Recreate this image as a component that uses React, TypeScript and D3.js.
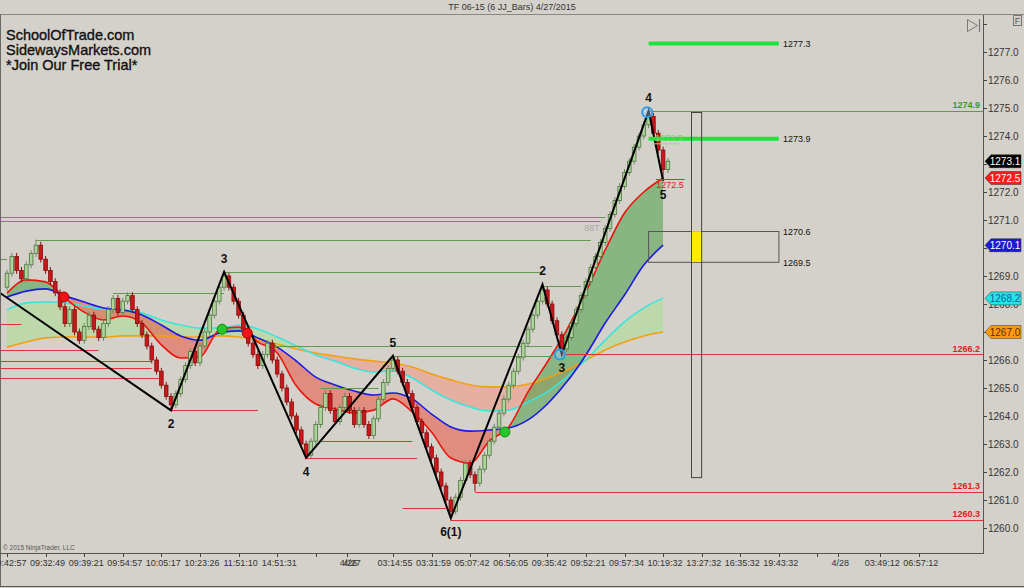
import React from 'react';
import * as d3 from 'd3';

const W = 1024;
const H = 588;

// ---- data ----
const firstOpen = 1268.6;
const closes = [
  1269.1, 1269.7, 1269.2, 1268.9, 1269.4, 1269.8, 1270.1, 1269.6, 1269.2, 1268.8,
  1268.4, 1267.9, 1267.3, 1267.8, 1267.0, 1266.7, 1267.2, 1267.6, 1267.1, 1266.8,
  1267.3, 1267.8, 1268.2, 1267.7, 1268.1, 1268.3, 1267.8, 1267.3, 1266.9, 1266.5,
  1266.0, 1265.6, 1265.1, 1264.7, 1264.4, 1264.8, 1265.3, 1265.8, 1266.3, 1265.9,
  1266.5, 1267.0, 1267.6, 1268.1, 1268.6, 1269.0, 1268.6, 1268.1, 1267.6, 1267.1,
  1266.6, 1266.2, 1265.8, 1266.2, 1266.6, 1266.0, 1265.5, 1265.0, 1264.5, 1264.0,
  1263.5, 1263.0, 1262.6, 1263.1, 1263.7, 1264.3, 1264.8, 1264.2, 1263.8, 1264.3,
  1264.7, 1264.2, 1263.7, 1264.2, 1263.7, 1263.3, 1263.9, 1264.6, 1265.2, 1265.7,
  1266.0, 1265.6, 1265.2, 1264.8, 1264.3, 1263.8, 1263.4, 1262.9, 1262.5, 1262.0,
  1261.5, 1261.0, 1260.6, 1261.1, 1261.7, 1262.3, 1261.9, 1261.6, 1262.1, 1262.6,
  1263.1, 1263.6, 1264.1, 1264.6, 1265.1, 1265.6, 1266.1, 1266.6, 1267.1, 1267.6,
  1268.1, 1268.5, 1268.0, 1267.4, 1266.9, 1266.4, 1266.8, 1267.3, 1267.8, 1268.3,
  1268.8, 1269.3, 1269.7, 1270.2, 1270.7, 1271.2, 1271.7, 1272.2, 1272.7, 1273.1,
  1273.6, 1274.0, 1274.4, 1274.7, 1274.1, 1273.5, 1272.8, 1273.1,
];
const wickHigh: [number, number][] = [[6, 1270.3], [45, 1269.15], [80, 1266.15], [111, 1268.7], [133, 1274.9]];
const wickLow: [number, number][] = [[34, 1264.2], [62, 1262.5], [92, 1260.35], [97, 1261.3], [115, 1266.2], [136, 1272.4]];

const maIdx = [0, 4, 8, 12, 16, 20, 24, 28, 32, 36, 40, 44, 48, 52, 56, 60, 64, 68, 72, 76, 80, 84, 88, 92, 96, 100, 104, 108, 112, 116, 120, 124, 128, 132, 136];
const maRed = [1268.39, 1268.86, 1268.79, 1268.21, 1267.71, 1267.43, 1267.57, 1267.32, 1266.54, 1266.07, 1266.11, 1267.07, 1267.18, 1266.64, 1266.25, 1265.07, 1264.43, 1264.25, 1264.11, 1264.21, 1264.61, 1264.14, 1263.43, 1262.5, 1262.32, 1263.11, 1263.61, 1264.86, 1265.93, 1267.07, 1268.43, 1269.93, 1271.25, 1272.0, 1272.5];
const maBlue = [1268.25, 1268.46, 1268.54, 1268.29, 1268.07, 1267.86, 1267.79, 1267.61, 1267.25, 1266.86, 1266.71, 1266.96, 1267.04, 1266.79, 1266.46, 1265.96, 1265.39, 1265.11, 1264.89, 1264.75, 1264.82, 1264.61, 1264.07, 1263.61, 1263.46, 1263.5, 1263.57, 1263.86, 1264.43, 1265.21, 1266.18, 1267.32, 1268.32, 1269.39, 1270.1];
const maCyan = [1267.79, 1268.04, 1268.07, 1268.04, 1267.93, 1267.82, 1267.79, 1267.68, 1267.43, 1267.25, 1267.14, 1267.14, 1267.25, 1267.11, 1266.82, 1266.5, 1266.18, 1265.96, 1265.71, 1265.57, 1265.61, 1265.36, 1264.93, 1264.57, 1264.32, 1264.18, 1264.21, 1264.5, 1264.86, 1265.39, 1266.0, 1266.71, 1267.36, 1267.86, 1268.21];
const maOrange = [1266.46, 1266.64, 1266.79, 1266.82, 1266.82, 1266.82, 1266.86, 1266.86, 1266.86, 1266.82, 1266.82, 1266.86, 1266.82, 1266.71, 1266.57, 1266.39, 1266.25, 1266.14, 1266.04, 1265.96, 1265.89, 1265.75, 1265.5, 1265.29, 1265.11, 1265.04, 1265.04, 1265.14, 1265.36, 1265.64, 1266.0, 1266.36, 1266.64, 1266.86, 1267.0];

const zigzag: [number, number][] = [[-1.5, 1268.4], [34, 1264.2], [45, 1269.15], [62, 1262.5], [80, 1266.15], [92, 1260.35], [111, 1268.7], [115, 1266.2], [133, 1274.9], [136, 1272.4]];
const waveLabels: [number, number, string, number][] = [
  [34, 1264.2, '2', 1], [45, 1269.15, '3', -1], [62, 1262.5, '4', 1], [80, 1266.15, '5', -1],
  [92, 1260.35, '6(1)', 1], [111, 1268.7, '2', -1], [115, 1266.2, '3', 1], [133, 1274.9, '4', -1], [136, 1272.4, '5', 1],
];
const dots: [number, number, string][] = [[11.8, 1268.25, 'red'], [44.6, 1267.1, 'green'], [49.8, 1266.96, 'red'], [103.2, 1263.43, 'green']];
const rings: [number, number][] = [[114.6, 1266.2], [132.7, 1274.85]];

const END = 9999;
const greenLines: [number, number, number][] = [
  [-2, 124, 1271.1], [-2, 123, 1270.95], [6, 121, 1270.3], [-2, 0, 1269.6], [22, 45, 1268.4],
  [45, 111, 1269.15], [111, 119, 1268.65], [54, 113, 1266.5], [80, 113, 1266.15], [65, 77, 1265.0], [133, END, 1274.9],
];
const redLines: [number, number, number][] = [
  [-2, 3, 1267.3], [-2, 19, 1266.35], [-2, 30, 1265.95], [-2, 30, 1265.7], [-2, 32, 1265.35],
  [34, 52, 1264.2], [62, 85, 1262.5], [65, 84, 1263.1], [82, 91, 1260.7], [97, END, 1261.3], [92, END, 1260.3], [115, END, 1266.2],
];
const axisLineLabels: [number, string, string][] = [[1274.9, '1274.9', '#3a9a2a'], [1266.2, '1266.2', '#e02020'], [1261.3, '1261.3', '#e02020'], [1260.3, '1260.3', '#e02020']];
const targetLines: [number, number, number][] = [[133, 160, 1277.3], [133, 160, 1273.9]];
const boxZone = { from: 133, to: 160, top: 1270.6, bottom: 1269.5 };
const tallBar = { from: 141.8, to: 143.9, top: 1274.86, bottom: 1261.82 };

const priceTicks = d3.range(1260, 1279, 1);
const markers: [number, string, string][] = [[1273.1, '#000000', '#ffffff'], [1272.5, '#ff1a1a', '#ffffff'], [1270.1, '#1a1ad8', '#ffffff'], [1268.2, '#22e6e6', '#1060a0'], [1267.0, '#ff9a10', '#5a2a00']];

const timeTicks: [number, string][] = [
  [0, '09:42:57'], [8, '09:32:49'], [16, '09:39:21'], [24, '09:54:57'], [32, '10:05:17'], [40, '10:23:26'],
  [48, '11:51:10'], [56, '14:51:31'], [64, ''], [70.4, '4/26'], [71.1, '4/27'], [80, '03:14:55'], [88, '03:31:59'],
  [96, '05:07:42'], [104, '06:56:05'], [112, '09:35:42'], [120, '09:52:21'], [128, '09:57:34'], [136, '10:19:32'],
  [144, '13:27:32'], [152, '16:35:32'], [160, '19:43:32'], [168, ''], [172.3, '4/28'], [181, '03:49:12'], [189, '06:57:12'],
];

// ---- layout ----
const plotL = 1, plotR = 983, plotT = 15, plotB = 553;
const x = d3.scaleLinear().domain([0, 136]).range([7, 663.1]);
const y = d3.scaleLinear().domain([1260, 1277]).range([528, 52]);
const FONT = 'Liberation Sans, Arial, sans-serif';
const BG = '#d4d1cb';

export default function App() {
  const bars = closes.map((c, i) => {
    const o = i === 0 ? firstOpen : closes[i - 1];
    let hi = Math.max(o, c) + 0.12;
    let lo = Math.min(o, c) - 0.12;
    wickHigh.forEach(([k, v]) => { if (k === i) hi = v; });
    wickLow.forEach(([k, v]) => { if (k === i) lo = v; });
    return { i, o, c, hi, lo, up: c >= o };
  });

  const pts = (arr: number[]) => maIdx.map((k, j) => [k, arr[j]] as [number, number]);
  const line = d3.line<[number, number]>().x(d => x(d[0])).y(d => y(d[1])).curve(d3.curveMonotoneX);
  const between = (a: number[], b: number[]) =>
    d3.area<number>().x(j => x(maIdx[j])).y0(j => y(a[j])).y1(j => y(b[j])).curve(d3.curveMonotoneX)(maIdx.map((_, j) => j)) || '';
  const above = (b: number[]) =>
    d3.area<number>().x(j => x(maIdx[j])).y0(() => 0).y1(j => y(b[j])).curve(d3.curveMonotoneX)(maIdx.map((_, j) => j)) || '';
  const below = (b: number[]) =>
    d3.area<number>().x(j => x(maIdx[j])).y0(j => y(b[j])).y1(() => H).curve(d3.curveMonotoneX)(maIdx.map((_, j) => j)) || '';

  const lx = (k: number) => (k === END ? plotR : Math.max(plotL, x(k)));
  const bw = 3.6;

  return (
    <svg width={W} height={H} style={{ position: 'absolute', left: 0, top: 0, background: BG }} fontFamily={FONT}>
      <defs>
        <clipPath id="plot"><rect x={plotL} y={plotT} width={plotR - plotL} height={plotB - plotT} /></clipPath>
        <clipPath id="aboveBlue"><path d={above(maBlue)} /></clipPath>
        <clipPath id="belowBlue"><path d={below(maBlue)} /></clipPath>
        <clipPath id="aboveOrange"><path d={above(maOrange)} /></clipPath>
        <clipPath id="belowOrange"><path d={below(maOrange)} /></clipPath>
      </defs>
      <rect x={0} y={0} width={W} height={H} fill={BG} />
      <text x={512} y={10} fontSize={9} textAnchor="middle" fill="#333">TF 06-15 (6 JJ_Bars)  4/27/2015</text>

      <g clipPath="url(#plot)">
        <path d={between(maCyan, maOrange)} fill="#a6e08c" opacity={0.5} clipPath="url(#aboveOrange)" />
        <path d={between(maCyan, maOrange)} fill="#f09a86" opacity={0.6} clipPath="url(#belowOrange)" />
        <path d={between(maRed, maBlue)} fill="#3c9a38" opacity={0.5} clipPath="url(#aboveBlue)" />
        <path d={between(maRed, maBlue)} fill="#ea5446" opacity={0.55} clipPath="url(#belowBlue)" />

        <path d={line(pts(maOrange)) || ''} fill="none" stroke="#f2a012" strokeWidth={1.6} />
        <path d={line(pts(maCyan)) || ''} fill="none" stroke="#3ce4dc" strokeWidth={1.6} />
        <path d={line(pts(maBlue)) || ''} fill="none" stroke="#1c1ce0" strokeWidth={1.6} />
        <path d={line(pts(maRed)) || ''} fill="none" stroke="#e8160e" strokeWidth={1.6} />

        {greenLines.map(([a, b, p], k) => (
          <line key={'g' + k} x1={lx(a)} x2={lx(b)} y1={Math.round(y(p)) + 0.5} y2={Math.round(y(p)) + 0.5} stroke="#5e9c4c" strokeWidth={1} />
        ))}
        {redLines.map(([a, b, p], k) => (
          <line key={'r' + k} x1={lx(a)} x2={lx(b)} y1={Math.round(y(p)) + 0.5} y2={Math.round(y(p)) + 0.5} stroke="#e03434" strokeWidth={1} />
        ))}

        {bars.map(b => (
          <g key={b.i}>
            <line x1={x(b.i)} x2={x(b.i)} y1={y(b.hi)} y2={y(b.lo)} stroke={b.up ? '#6d8a62' : '#8a1010'} strokeWidth={1} />
            <rect x={x(b.i) - bw / 2} y={y(Math.max(b.o, b.c))} width={bw} height={Math.max(1, Math.abs(y(b.o) - y(b.c)))}
              fill={b.up ? '#acd398' : '#c8181c'} stroke={b.up ? '#4d7440' : '#850c0c'} strokeWidth={0.8} />
          </g>
        ))}

        <path d={d3.line<[number, number]>().x(d => x(d[0])).y(d => y(d[1]))(zigzag) || ''} fill="none" stroke="#000" strokeWidth={2} />

        {dots.map(([i, p, c], k) => (
          <circle key={'d' + k} cx={x(i)} cy={y(p)} r={5} fill={c === 'red' ? '#f01414' : '#26c826'} stroke={c === 'red' ? '#b00000' : '#128a12'} strokeWidth={1} />
        ))}
        {rings.map(([i, p], k) => (
          <circle key={'ring' + k} cx={x(i)} cy={y(p)} r={5} fill="#9fd4f5" fillOpacity={0.4} stroke="#2e9be8" strokeWidth={2} />
        ))}

        {waveLabels.map(([i, p, t, dir], k) => (
          <text key={'w' + k} x={x(i)} y={y(p) + (dir > 0 ? 18 : -9)} fontSize={12} fontWeight="bold" textAnchor="middle" fill="#111">{t}</text>
        ))}

        <text x={592} y={231} fontSize={9} fill="#a8a8a8" textAnchor="middle">88T</text>

        {targetLines.map(([a, b, p], k) => (
          <g key={'t' + k}>
            <line x1={x(a)} x2={x(b)} y1={y(p)} y2={y(p)} stroke="#1fe33c" strokeWidth={4} />
            <text x={x(b) + 4} y={y(p) + 3.5} fontSize={9} fill="#111">{p.toFixed(1)}</text>
          </g>
        ))}
        <line x1={x(133.6)} x2={x(139.5)} y1={y(1273.72)} y2={y(1273.72)} stroke="#8ee07a" strokeWidth={1} />
        <text x={x(134.3)} y={y(1273.72) - 3} fontSize={9} fill="#7fd86a">1273.7</text>
        <line x1={x(134.5)} x2={x(140.5)} y1={Math.round(y(1272.45)) + 0.5} y2={Math.round(y(1272.45)) + 0.5} stroke="#e03434" strokeWidth={1} />
        <text x={x(134.6)} y={y(1272.45) + 9} fontSize={9} fill="#e02020">1272.5</text>

        <rect x={x(boxZone.from)} y={Math.round(y(boxZone.top)) + 0.5} width={x(boxZone.to) - x(boxZone.from)} height={y(boxZone.bottom) - y(boxZone.top)} fill="none" stroke="#555" strokeWidth={1} />
        <text x={x(boxZone.to) + 4} y={y(boxZone.top) + 3.5} fontSize={9} fill="#111">{boxZone.top.toFixed(1)}</text>
        <text x={x(boxZone.to) + 4} y={y(boxZone.bottom) + 3.5} fontSize={9} fill="#111">{boxZone.bottom.toFixed(1)}</text>
        <rect x={x(tallBar.from)} y={y(boxZone.top)} width={x(tallBar.to) - x(tallBar.from)} height={y(boxZone.bottom) - y(boxZone.top)} fill="#ffec00" />
        <rect x={Math.round(x(tallBar.from)) + 0.5} y={Math.round(y(tallBar.top)) + 0.5} width={x(tallBar.to) - x(tallBar.from)} height={y(tallBar.bottom) - y(tallBar.top)} fill="none" stroke="#444" strokeWidth={1} />

        {axisLineLabels.map(([p, t, c], k) => (
          <text key={'al' + k} x={980} y={y(p) - 2.5} fontSize={9} fontWeight="bold" textAnchor="end" fill={c}>{t}</text>
        ))}

        <text x={6} y={40} fontSize={14.5} fill="#111" stroke="#111" strokeWidth={0.35}>SchoolOfTrade.com</text>
        <text x={6} y={55} fontSize={14.5} fill="#111" stroke="#111" strokeWidth={0.35}>SidewaysMarkets.com</text>
        <text x={6} y={70} fontSize={14.5} fill="#111" stroke="#111" strokeWidth={0.35}>*Join Our Free Trial*</text>
        <text x={3} y={550} fontSize={6.5} fill="#555">© 2015 NinjaTrader, LLC</text>

        <path d="M967.5,19.5 L977.5,25.5 L967.5,31.5 Z" fill="none" stroke="#777" strokeWidth={1} />
        <line x1={979.5} x2={979.5} y1={19} y2={32} stroke="#777" strokeWidth={1.2} />
      </g>

      {/* frame */}
      <line x1={0} x2={W} y1={14.5} y2={14.5} stroke="#8a8884" strokeWidth={1} />
      <line x1={0.5} x2={0.5} y1={14} y2={587} stroke="#6a6864" strokeWidth={1} />
      <line x1={0} x2={plotR} y1={plotB + 0.5} y2={plotB + 0.5} stroke="#555" strokeWidth={1} />
      <line x1={plotR + 0.5} x2={plotR + 0.5} y1={plotT} y2={plotB + 1} stroke="#555" strokeWidth={1} />
      <line x1={0} x2={W} y1={586.5} y2={586.5} stroke="#555" strokeWidth={1} />
      <rect x={1013.5} y={15.5} width={8} height={10} fill="none" stroke="#777" strokeWidth={1} />
      <text x={1017.5} y={24} fontSize={9} textAnchor="middle" fill="#555">F</text>

      {/* price axis */}
      {priceTicks.map(p => (
        <g key={'pt' + p}>
          <line x1={plotR} x2={plotR + 4} y1={Math.round(y(p)) + 0.5} y2={Math.round(y(p)) + 0.5} stroke="#444" />
          {p < 1278 && <text x={plotR + 5} y={y(p) + 3.5} fontSize={10} fill="#333">{p.toFixed(1)}</text>}
        </g>
      ))}
      {markers.map(([p, bg, fg], k) => {
        const yy = y(p);
        return (
          <g key={'m' + k}>
            <path d={`M${plotR + 2},${yy} L${plotR + 8},${yy - 6.5} L${1021},${yy - 6.5} L${1021},${yy + 6.5} L${plotR + 8},${yy + 6.5} Z`} fill={bg} stroke="#333" strokeWidth={0.5} />
            <text x={1005} y={yy + 3.8} fontSize={10} textAnchor="middle" fill={fg}>{p.toFixed(1)}</text>
          </g>
        );
      })}

      {/* time axis */}
      <g>
        {timeTicks.map(([i, t], k) => (
          <g key={'tt' + k}>
            {t !== '4/27' && <line x1={Math.round(x(i)) + 0.5} x2={Math.round(x(i)) + 0.5} y1={plotB} y2={plotB + 4} stroke="#444" />}
            {t && <text x={x(i) + 2} y={566} fontSize={9} textAnchor="middle" fill="#333">{t}</text>}
          </g>
        ))}
      </g>
    </svg>
  );
}
